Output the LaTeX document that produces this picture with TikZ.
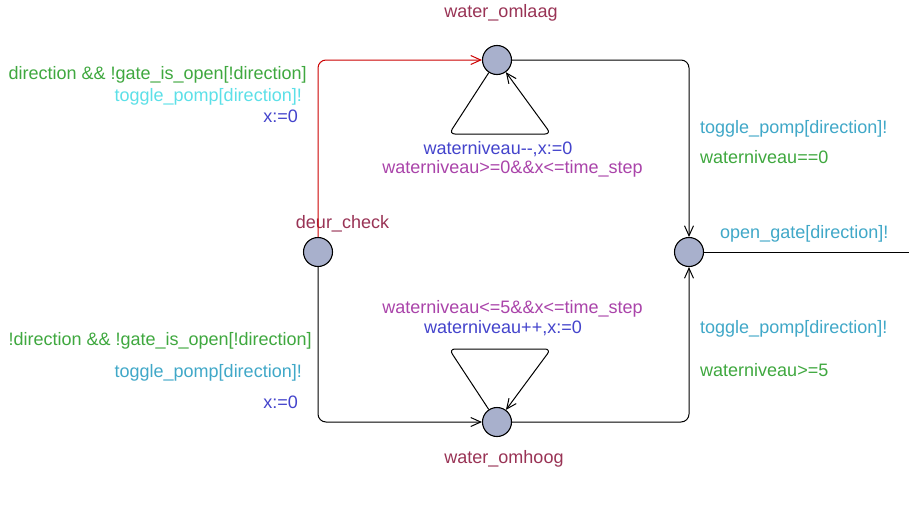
\documentclass[tikz,border=0pt]{standalone}
\usepackage{fontspec}
\setmainfont{Liberation Sans}
\usetikzlibrary{arrows.meta}
\definecolor{locfill}{HTML}{A8B0CC}
\definecolor{locname}{HTML}{993355}
\definecolor{guardc}{HTML}{3FA83F}
\definecolor{syncc}{HTML}{40A8C8}
\definecolor{synchl}{HTML}{5CE0E8}
\definecolor{assignc}{HTML}{4444CC}
\definecolor{invc}{HTML}{AA44AA}
\definecolor{rededge}{HTML}{CC0000}
\begin{document}
\begin{tikzpicture}[x=1pt,y=-1pt,
  loc/.style={circle,draw=black,fill=locfill,line width=1.1pt,minimum size=29pt,inner sep=0pt},
  conn/.style={line width=1pt,rounded corners=8pt},
  edge/.style={conn,-{Straight Barb[length=10pt,width=9pt]}},
  lbl/.style={font=\fontsize{18}{20}\selectfont,inner sep=0pt},
]
\fill[white] (0,0) rectangle (909,506);
\useasboundingbox (0,0) rectangle (909,506);

% locations
\node[loc] (check) at (318,252) {};
\node[loc] (omlaag) at (497,60) {};
\node[loc] (omhoog) at (497,422) {};
\node[loc] (gate) at (689,252) {};
\coordinate (out) at (909,252);

% location names
\node[lbl,text=locname,anchor=base] (n1) at (501,17) {water\_omlaag};
\node[lbl,text=locname,anchor=base] (n2) at (342.5,228) {deur\_check};
\node[lbl,text=locname,anchor=base] (n3) at (504,463) {water\_omhoog};

% edges
\draw[edge,draw=rededge] (check) |- (omlaag);
\draw[edge] (check) |- (omhoog);
\draw[edge] (omlaag) -| (gate);
\draw[edge] (omhoog) -| (gate);
\draw[conn] (gate) -- (out);

% self loops
\coordinate (la) at (449,134);
\coordinate (lb) at (551,134);
\draw[edge,rounded corners=6pt] (omlaag) -- (la) -- (lb) -- (omlaag);
\coordinate (lc) at (449,349);
\coordinate (ld) at (551,349);
\draw[edge,rounded corners=6pt] (omhoog) -- (lc) -- (ld) -- (omhoog);

% labels of edge check -> omlaag
\node[lbl,text=guardc,anchor=base east] (t1) at (307,79) {direction \&\& !gate\_is\_open[!direction]};
\node[lbl,text=synchl,anchor=base east] (t2) at (302,101) {toggle\_pomp[direction]!};
\node[lbl,text=assignc,anchor=base east] (t3) at (298,122) {x:=0};

% labels of edge check -> omhoog
\node[lbl,text=guardc,anchor=base east] (b1) at (312,345) {!direction \&\& !gate\_is\_open[!direction]};
\node[lbl,text=syncc,anchor=base east] (b2) at (302,377) {toggle\_pomp[direction]!};
\node[lbl,text=assignc,anchor=base east] (b3) at (298,408) {x:=0};

% loop labels
\node[lbl,text=assignc,anchor=base] (l1) at (498,154) {waterniveau-{}-,x:=0};
\node[lbl,text=invc,anchor=base] (l2) at (512.5,173) {waterniveau>=0\&\&x<=time\_step};
\node[lbl,text=invc,anchor=base] (l3) at (512.5,313) {waterniveau<=5\&\&x<=time\_step};
\node[lbl,text=assignc,anchor=base] (l4) at (503,333) {waterniveau++,x:=0};

% right labels
\node[lbl,text=syncc,anchor=base west] (r1) at (700,133) {toggle\_pomp[direction]!};
\node[lbl,text=guardc,anchor=base west] (r2) at (700,163) {waterniveau==0};
\node[lbl,text=syncc,anchor=base west] (r3) at (720,238) {open\_gate[direction]!};
\node[lbl,text=syncc,anchor=base west] (r4) at (700,333) {toggle\_pomp[direction]!};
\node[lbl,text=guardc,anchor=base west] (r5) at (700,376) {waterniveau>=5};
\end{tikzpicture}
\end{document}
